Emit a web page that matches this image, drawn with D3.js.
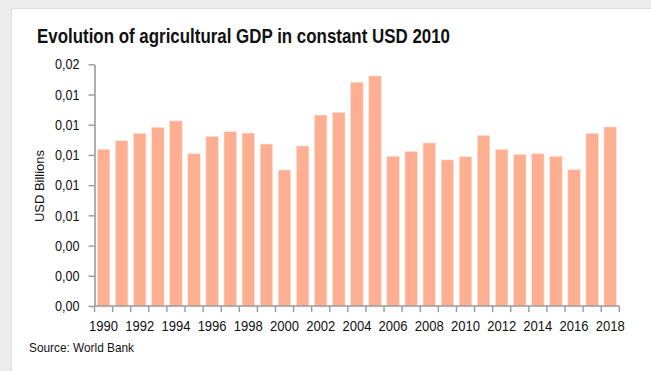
<!DOCTYPE html>
<html>
<head>
<meta charset="utf-8">
<script src="https://cdn.jsdelivr.net/npm/d3@7/dist/d3.min.js"></script>
<style>
  html, body { margin: 0; padding: 0; background: #ececec; }
  svg { display: block; }
  text { font-family: "Liberation Sans Narrow", "Arial Narrow", "Liberation Sans", Arial, sans-serif; fill: #111; }
</style>
</head>
<body>
<svg id="chart" width="651" height="371"></svg>
<script>
// Agricultural GDP, constant USD 2010 (billions)
const years = d3.range(1990, 2019);
const gdp = [
  0.01037, 0.01094, 0.01143, 0.01183, 0.01225, 0.01008, 0.01123,
  0.01154, 0.01145, 0.01072, 0.00900, 0.01059, 0.01264, 0.01282,
  0.01481, 0.01523, 0.00991, 0.01024, 0.01079, 0.00967, 0.00988,
  0.01130, 0.01037, 0.01004, 0.01008, 0.00991, 0.00902, 0.01143, 0.01185
];
const yTicks = [0, 0.002, 0.004, 0.006, 0.008, 0.010, 0.012, 0.014, 0.016];
const xLabelYears = years.filter((d, i) => i % 2 === 0);

const title = "Evolution of agricultural GDP in constant USD 2010";
const yTitle = "USD Billions";
const source = "Source: World Bank";

const svg = d3.select("#chart");

// card panel
svg.append("rect").attr("x", 11).attr("y", 8).attr("width", 660).attr("height", 380).attr("fill", "#dedede");
svg.append("rect").attr("x", 12).attr("y", 9).attr("width", 660).attr("height", 380).attr("fill", "#ffffff");

const x = d3.scaleBand().domain(years).range([94.5, 619.3]).paddingInner(0.31).paddingOuter(0.155);
const y = d3.scaleLinear().domain([0, 0.016]).range([306, 64.3]);

// narrow text: fixed advance widths keep the condensed look
const narrow = (sel, len) => sel.attr("textLength", len).attr("lengthAdjust", "spacingAndGlyphs");

// title
svg.append("text")
  .attr("x", 37).attr("y", 43.3)
  .attr("font-size", 21).attr("font-weight", "bold")
  .call(narrow, 413)
  .text(title);

// bars
svg.append("g").selectAll("rect")
  .data(years)
  .join("rect")
  .attr("x", (d) => x(d))
  .attr("width", x.bandwidth())
  .attr("y", (d, i) => y(gdp[i]))
  .attr("height", (d, i) => y(0) - y(gdp[i]))
  .attr("fill", "#ffaf91")
  .attr("stroke", "#ffe3d8")
  .attr("stroke-width", 0.6);

// y axis
const fmt = (v) => d3.format(".2f")(v).replace(".", ",");
const yAxis = svg.append("g")
  .attr("transform", "translate(94.5,0)")
  .call(d3.axisLeft(y).tickValues(yTicks).tickFormat(fmt).tickSize(6).tickSizeOuter(0).tickPadding(9));
yAxis.select(".domain").attr("stroke", "#9a9a9a").attr("stroke-width", 1.6);
yAxis.selectAll(".tick line").attr("stroke", "#9a9a9a").attr("stroke-width", 1.4);
yAxis.selectAll(".tick text")
  .attr("font-size", 14.5).attr("font-family", null)
  .call(narrow, 24.5)
  .style("fill", "#111");

// x axis: boundary ticks for every category, labels every other year
const step = x.step();
const x0 = x.range()[0];
const xAxis = svg.append("g").attr("transform", "translate(0,306)");
xAxis.append("line")
  .attr("x1", x.range()[0]).attr("x2", x.range()[1])
  .attr("stroke", "#9a9a9a").attr("stroke-width", 1.6);
xAxis.selectAll("line.b")
  .data(d3.range(years.length + 1))
  .join("line")
  .attr("class", "b")
  .attr("x1", (i) => x0 + i * step).attr("x2", (i) => x0 + i * step)
  .attr("y1", 0).attr("y2", 6)
  .attr("stroke", "#9a9a9a").attr("stroke-width", 1.4);
xAxis.selectAll("text")
  .data(xLabelYears)
  .join("text")
  .attr("x", (d) => x(d) + x.bandwidth() / 2)
  .attr("y", 24.5)
  .attr("text-anchor", "middle")
  .attr("font-size", 15)
  .call(narrow, 29)
  .text((d) => d);

// y axis title
svg.append("text")
  .attr("transform", "translate(44.3,186) rotate(-90)")
  .attr("text-anchor", "middle")
  .attr("font-size", 13.5)
  .call(narrow, 72)
  .text(yTitle);

// source note
svg.append("text")
  .attr("x", 29).attr("y", 351.5)
  .attr("font-size", 13.5)
  .call(narrow, 105)
  .text(source);
</script>
</body>
</html>
